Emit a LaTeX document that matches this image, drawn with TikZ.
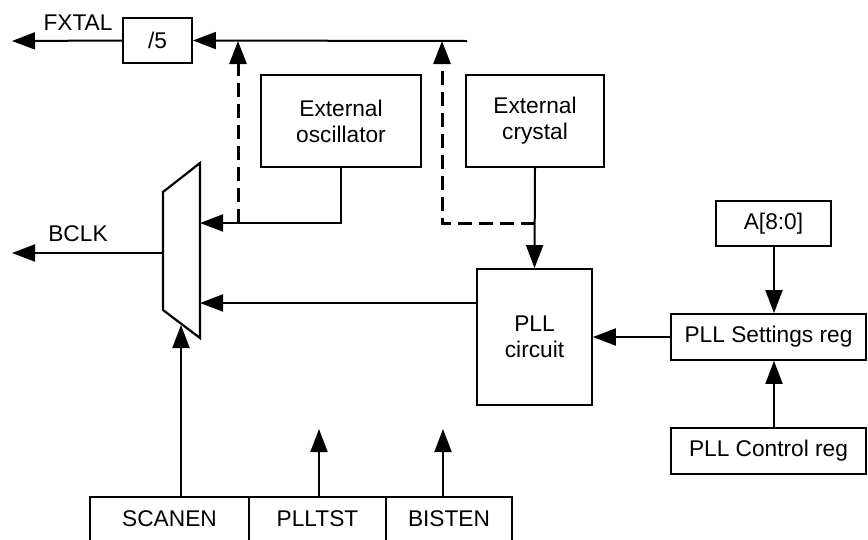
\documentclass[tikz,border=0pt]{standalone}
\usepackage{fontspec}
\setmainfont{Liberation Sans}
\usetikzlibrary{arrows.meta}
\begin{document}
\begin{tikzpicture}[x=1pt,y=-1pt,
  font=\fontsize{22.7}{26}\selectfont,
  line width=2pt,
  arr/.style={-{Triangle[length=23pt,width=17pt]}},
  dsh/.style={line width=3pt,dash pattern=on 14pt off 7pt},
  blk/.style={draw,rectangle,line width=1.8pt,inner sep=0pt,align=center}]
\useasboundingbox (0,0) rectangle (868,539);
\clip (0,0) rectangle (868,539);
% nodes
\node[blk,minimum width=69pt,minimum height=45pt] (div) at (157.5,40.5) {/5};
\node (fxtal) at (78,23) {FXTAL};
\coordinate (fxout) at (12,41);
\coordinate (topend) at (467,41);
\node[blk,minimum width=160pt,minimum height=92pt] (osc) at (341,121) {External\\oscillator};
\node[blk,minimum width=138pt,minimum height=92pt] (xtal) at (535,121) {External\\crystal};
\node[blk,minimum width=115pt,minimum height=136pt] (pll) at (534.5,337) {PLL\\circuit};
\node[blk,minimum width=195pt,minimum height=46pt] (set) at (768.5,337) {PLL Settings reg};
\node[blk,minimum width=115pt,minimum height=45pt] (addr) at (773.5,223.5) {A[8:0]};
\node[blk,minimum width=195pt,minimum height=46pt] (ctl) at (768.5,451) {PLL Control reg};
\node[blk,minimum width=159pt,minimum height=44pt] (scan) at (169.5,519) {SCANEN};
\node[blk,minimum width=137pt,minimum height=44pt] (plltst) at (317.5,519) {PLLTST};
\node[blk,minimum width=126pt,minimum height=44pt] (bist) at (449,519) {BISTEN};
% mux
\coordinate (m1) at (163,192);
\coordinate (m2) at (200,163);
\coordinate (m3) at (200,338);
\coordinate (m4) at (163,310);
\draw[line width=2.2pt] (m1) -- (m2) -- (m3) -- (m4) -- cycle;
\coordinate (muxout) at (163,253);
\coordinate (muxin1) at (200,223);
\coordinate (muxin2) at (200,303);
\coordinate (muxsel) at (181,325);
\node (bclk) at (78,234) {BCLK};
\coordinate (bclkout) at (12,253);
% connectors
\draw[arr] (div.west) -- (fxout);
\draw[arr] (topend) -- (div.east);
\draw[arr] (muxout) -- (bclkout);
\draw[arr] (osc.south) |- (muxin1);
\coordinate (d1) at (238,223);
\coordinate (d1t) at (238,41);
\draw[arr,dsh] (d1) -- (d1t);
\draw[arr] (xtal.south) -- (pll.north);
\coordinate (d2) at (535,223);
\coordinate (d2c) at (442,223);
\coordinate (d2t) at (442,41);
\draw[arr,dsh] (d2) -- (d2c) -- (d2t);
\draw[arr] (pll.west |- muxin2) -- (muxin2);
\draw[arr] (set.west) -- (pll.east |- set.west);
\draw[arr] (addr.south -| 774,0) -- (set.north -| 774,0);
\draw[arr] (ctl.north -| 774,0) -- (set.south -| 774,0);
\draw[arr] (scan.north -| muxsel) -- (muxsel);
\coordinate (p1) at (319,429);
\coordinate (p2) at (443,429);
\draw[arr] (plltst.north -| p1) -- (p1);
\draw[arr] (bist.north -| p2) -- (p2);
\end{tikzpicture}
\end{document}
